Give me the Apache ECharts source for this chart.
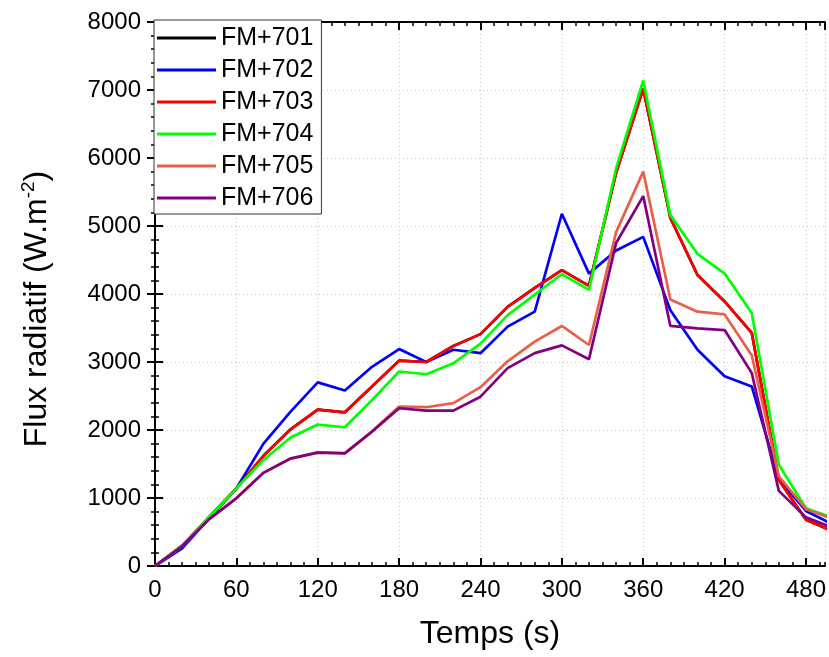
<!DOCTYPE html>
<html>
<head>
<meta charset="utf-8">
<script src="https://cdn.jsdelivr.net/npm/echarts@6/dist/echarts.min.js"></script>
<style>
html,body{margin:0;padding:0;background:#fff;}
#chart{width:829px;height:657px;}
</style>
</head>
<body>
<div id="chart"></div>
<script>
const times = [0,20,40,60,80,100,120,140,160,180,200,220,240,260,280,300,320,340,360,380,400,420,440,460,480,500];
const seriesNames = ['FM+701','FM+702','FM+703','FM+704','FM+705','FM+706'];
const fm701 = [0,300,720,1140,1620,2010,2300,2260,2640,3020,3000,3235,3410,3810,4090,4350,4120,5780,7020,5120,4280,3890,3430,1265,680,510];
const fm702 = [0,260,700,1140,1800,2270,2700,2580,2930,3190,3000,3180,3130,3520,3740,5180,4300,4640,4840,3760,3180,2790,2640,1280,810,610];
const fm703 = [0,300,720,1140,1620,2010,2300,2260,2640,3020,3000,3235,3410,3810,4090,4350,4120,5780,7020,5120,4280,3890,3430,1265,680,510];
const fm704 = [0,300,720,1140,1560,1890,2080,2040,2440,2860,2820,2980,3270,3690,3990,4290,4060,5850,7140,5160,4590,4300,3720,1490,850,710];
const fm705 = [0,290,690,1000,1373,1583,1670,1660,1980,2345,2335,2395,2630,3010,3300,3530,3250,4910,5800,3920,3740,3700,3100,1320,835,690];
const fm706 = [0,290,690,995,1370,1580,1667,1657,1975,2320,2285,2285,2490,2910,3130,3245,3040,4750,5440,3530,3495,3470,2840,1105,715,560];
const colors = ['#000000','#0000ff','#ff0000','#00ff00','#ea5f48','#800080'];
const allData = [fm701,fm702,fm703,fm704,fm705,fm706];

const FONT = 'Arial, "Liberation Sans", sans-serif';
const chart = echarts.init(document.getElementById('chart'));

const series = allData.map((arr, i) => ({
  name: seriesNames[i],
  type: 'line',
  xAxisIndex: 0,
  yAxisIndex: 0,
  data: arr.map((v, k) => [times[k], v]),
  showSymbol: false,
  symbol: 'none',
  lineStyle: { color: colors[i], width: 2.7 },
  itemStyle: { color: colors[i] },
  animation: false,
  clip: true,
  z: 2 + i
}));

const axLine = { show: true, lineStyle: { color: '#000', width: 2 } };
const XMAX = 494;

option = {
  backgroundColor: '#fff',
  animation: false,
  grid: { left: 155, right: 4, top: 22, bottom: 91, containLabel: false },
  legend: {
    orient: 'vertical',
    left: 154,
    top: 20,
    icon: 'rect',
    itemWidth: 59,
    itemHeight: 3,
    itemGap: 6,
    padding: [5, 8, 3, 3],
    backgroundColor: '#fff',
    borderColor: '#333',
    borderWidth: 1,
    textStyle: { fontSize: 25, fontFamily: FONT, color: '#000', lineHeight: 26 },
    data: seriesNames,
    z: 20
  },
  xAxis: [
    {
      type: 'value', position: 'bottom', min: 0, max: XMAX, interval: 60,
      name: 'Temps (s)', nameLocation: 'middle', nameGap: 52,
      nameTextStyle: { fontSize: 32, fontFamily: FONT, color: '#000' },
      axisLine: axLine,
      axisTick: { show: true, inside: true, length: 8, lineStyle: { color: '#000', width: 2 } },
      axisLabel: { show: true, fontSize: 24, fontFamily: FONT, color: '#000', margin: 12, showMaxLabel: false },
      splitLine: { show: true, lineStyle: { color: '#c4c4c4', type: [1, 3], width: 1 } }
    },
    {
      type: 'value', position: 'bottom', min: 0, max: XMAX, interval: 10,
      axisLine: { show: false },
      axisTick: { show: true, inside: true, length: 4, lineStyle: { color: '#000', width: 1.5 } },
      axisLabel: { show: false }, splitLine: { show: false }
    },
    {
      type: 'value', position: 'top', min: 0, max: XMAX, interval: 60,
      axisLine: axLine,
      axisTick: { show: true, inside: true, length: 8, lineStyle: { color: '#000', width: 2 } },
      axisLabel: { show: false }, splitLine: { show: false }
    },
    {
      type: 'value', position: 'top', min: 0, max: XMAX, interval: 10,
      axisLine: { show: false },
      axisTick: { show: true, inside: true, length: 4, lineStyle: { color: '#000', width: 1.5 } },
      axisLabel: { show: false }, splitLine: { show: false }
    }
  ],
  yAxis: [
    {
      type: 'value', position: 'left', min: 0, max: 8000, interval: 1000,
      name: '{a|Flux radiatif (W.m}{b|-2}{a|)}',
      nameLocation: 'middle', nameGap: 100, nameRotate: 90,
      nameTextStyle: {
        fontFamily: FONT, color: '#000',
        padding: [0, 30, 0, 0],
        rich: {
          a: { fontSize: 32, fontFamily: FONT, color: '#000', lineHeight: 36 },
          b: { fontSize: 19, fontFamily: FONT, color: '#000', verticalAlign: 'top', lineHeight: 20 }
        }
      },
      axisLine: axLine,
      axisTick: { show: true, inside: true, length: 8, lineStyle: { color: '#000', width: 2 } },
      minorTick: { show: true, splitNumber: 5, length: 4, lineStyle: { color: '#000', width: 1.5 } },
      axisLabel: { show: true, fontSize: 24, fontFamily: FONT, color: '#000', margin: 14,
                   formatter: function (v) { return String(v); } },
      splitLine: { show: true, lineStyle: { color: '#c4c4c4', type: [1, 3], width: 1 } }
    },
    {
      type: 'value', position: 'right', min: 0, max: 8000, interval: 1000,
      axisLine: axLine,
      axisTick: { show: true, inside: true, length: 8, lineStyle: { color: '#000', width: 2 } },
      minorTick: { show: true, splitNumber: 5, length: 4, lineStyle: { color: '#000', width: 1.5 } },
      axisLabel: { show: false }, splitLine: { show: false }
    }
  ],
  series: series
};
chart.setOption(option);
</script>
</body>
</html>
